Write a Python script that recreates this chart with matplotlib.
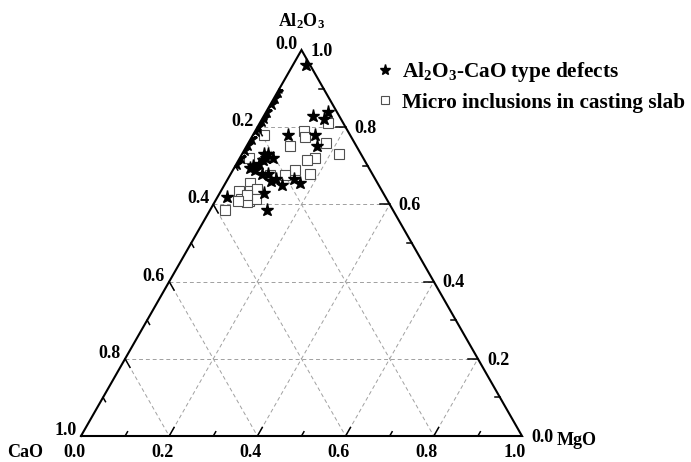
import numpy as np
import matplotlib
matplotlib.use("Agg")
import matplotlib.pyplot as plt
from matplotlib.lines import Line2D
from matplotlib.patches import Polygon

plt.rcParams['font.family'] = ['Liberation Serif', 'DejaVu Serif']
plt.rcParams['font.weight'] = 'bold'
plt.rcParams['mathtext.fontset'] = 'custom'
plt.rcParams['mathtext.rm'] = 'Liberation Serif:bold'
plt.rcParams['mathtext.it'] = 'Liberation Serif:bold'
plt.rcParams['mathtext.bf'] = 'Liberation Serif:bold'

# ---- data (mass fractions) ----
# Al2O3-CaO type defects (inside the triangle)
defect_al2o3 = [0.96, 0.83, 0.84, 0.82, 0.78, 0.78, 0.75, 0.73, 0.73, 0.715, 0.72,
                0.70, 0.695, 0.69, 0.68, 0.68, 0.66, 0.665, 0.65, 0.665, 0.655,
                0.63, 0.62, 0.585, 0.705, 0.72]
defect_mgo = [0.03, 0.11, 0.14, 0.14, 0.08, 0.14, 0.16, 0.05, 0.06, 0.055, 0.06,
              0.04, 0.035, 0.05, 0.07, 0.085, 0.10, 0.11, 0.13, 0.15, 0.17,
              0.10, 0.02, 0.13, 0.05, 0.075]
# Al2O3-CaO type defects lying on the CaO-Al2O3 edge (MgO = 0)
edge_defect_al2o3 = [0.89, 0.875, 0.86, 0.84, 0.825, 0.815, 0.80, 0.79, 0.77, 0.755,
                     0.74, 0.72, 0.705]
edge_defect_mgo = [0.0] * len(edge_defect_al2o3)
# Micro inclusions in casting slab
slab_al2o3 = [0.81, 0.78, 0.79, 0.775, 0.76, 0.75, 0.73, 0.72, 0.715, 0.72,
              0.68, 0.69, 0.675, 0.675, 0.655, 0.635, 0.635, 0.64, 0.615, 0.61,
              0.615, 0.605, 0.625, 0.585, 0.61]
slab_mgo = [0.155, 0.025, 0.11, 0.12, 0.175, 0.10, 0.22, 0.17, 0.155, 0.02,
            0.18, 0.14, 0.125, 0.09, 0.055, 0.04, 0.065, 0.08, 0.055, 0.075,
            0.09, 0.075, 0.065, 0.035, 0.05]

ticks = [0.0, 0.2, 0.4, 0.6, 0.8, 1.0]
minor = [0.1, 0.3, 0.5, 0.7, 0.9]
H = np.sqrt(3) / 2


def proj(al, mg):
    al = np.asarray(al, float)
    mg = np.asarray(mg, float)
    return mg + al / 2.0, al * H


fig = plt.figure(figsize=(6.91, 4.62), dpi=100)
ax = fig.add_axes([81 / 691, 26 / 462, 441 / 691, 386 / 462])
ax.set_xlim(0, 1)
ax.set_ylim(0, H)
ax.axis('off')

# grid
gkw = dict(color='#a0a0a0', lw=0.7, ls=(0, (4, 3)), zorder=1)
for t in [0.2, 0.4, 0.6, 0.8]:
    x, y = proj([t, t], [0, 1 - t]); ax.plot(x, y, **gkw)
    x, y = proj([0, 1 - t], [t, t]); ax.plot(x, y, **gkw)
    x, y = proj([1 - t, 0], [0, 1 - t]); ax.plot(x, y, **gkw)

# triangle frame
tx, ty = proj([0, 0, 1, 0], [0, 1, 0, 0])
ax.plot(tx, ty, color='black', lw=1.5, zorder=5, clip_on=False, solid_joinstyle='miter')
tri = Polygon(np.column_stack([tx[:3], ty[:3]]), closed=True, transform=ax.transData,
              fc='none', ec='none')
ax.add_patch(tri)

# ticks
maj, mnr = 0.022, 0.011
tkw = dict(color='black', lw=1.1, zorder=5, clip_on=False)
for t in ticks[1:-1] + minor:
    L = maj if t in ticks else mnr
    x0, y0 = proj(t, 1 - t)
    ax.plot([x0, x0 - L], [y0, y0], **tkw)
    x0, y0 = proj(0, t)
    ax.plot([x0, x0 + L * 0.5], [y0, y0 + L * H], **tkw)
    x0, y0 = proj(1 - t, 0)
    ax.plot([x0, x0 + L * 0.5], [y0, y0 - L * H], **tkw)

fs_tick = 13
for t in ticks:
    x0, y0 = proj(1 - t, 0)
    ax.annotate(f"{t:.1f}", (x0, y0), xytext=(-3, 4), textcoords='offset points',
                ha='right', va='center', fontsize=fs_tick, fontweight='bold', annotation_clip=False)
    x0, y0 = proj(t, 1 - t)
    ax.annotate(f"{t:.1f}", (x0, y0), xytext=(6.5, -1), textcoords='offset points',
                ha='left', va='center', fontsize=fs_tick, fontweight='bold', annotation_clip=False)
    x0, y0 = proj(0, t)
    ax.annotate(f"{t:.1f}", (x0, y0), xytext=(-5, -12), textcoords='offset points',
                ha='center', va='center', fontsize=fs_tick, fontweight='bold', annotation_clip=False)

# vertex names
fs_lab = 13
ax.annotate('Al$_2$O$_3$', proj(1, 0), xytext=(0, 21), textcoords='offset points',
            ha='center', va='center', fontsize=fs_lab, fontweight='bold', annotation_clip=False)
ax.annotate('CaO', proj(0, 0), xytext=(-40, -12), textcoords='offset points',
            ha='center', va='center', fontsize=fs_lab, fontweight='bold', annotation_clip=False)
ax.annotate('MgO', proj(0, 1), xytext=(39, -3), textcoords='offset points',
            ha='center', va='center', fontsize=fs_lab, fontweight='bold', annotation_clip=False)

# data
x, y = proj(defect_al2o3, defect_mgo)
ax.plot(x, y, ls='none', marker='*', ms=9.5, color='black', mec='black', zorder=4, clip_on=False)
x, y = proj(edge_defect_al2o3, edge_defect_mgo)
edge_line, = ax.plot(x, y, ls='none', marker='*', ms=9, color='black', zorder=4)
edge_line.set_clip_path(tri)
x, y = proj(slab_al2o3, slab_mgo)
ax.plot(x, y, ls='none', marker='s', ms=6.5, mfc='white', mec='#505050', mew=0.8,
        zorder=3, clip_on=False)

handles = [Line2D([], [], ls='none', marker='*', ms=8, color='black'),
           Line2D([], [], ls='none', marker='s', ms=5.5, mfc='white', mec='#505050', mew=0.8)]
labels = ['Al$_2$O$_3$-CaO type defects', 'Micro inclusions in casting slab']
fig.legend(handles, labels, loc='upper left', bbox_to_anchor=(370 / 691, 1 - 52 / 462),
           frameon=False, prop={'family': 'Liberation Serif', 'weight': 'bold', 'size': 15.3},
           handlelength=0.6, handletextpad=0.5, labelspacing=0.38, borderaxespad=0)

fig.savefig('out.png', dpi=100)
